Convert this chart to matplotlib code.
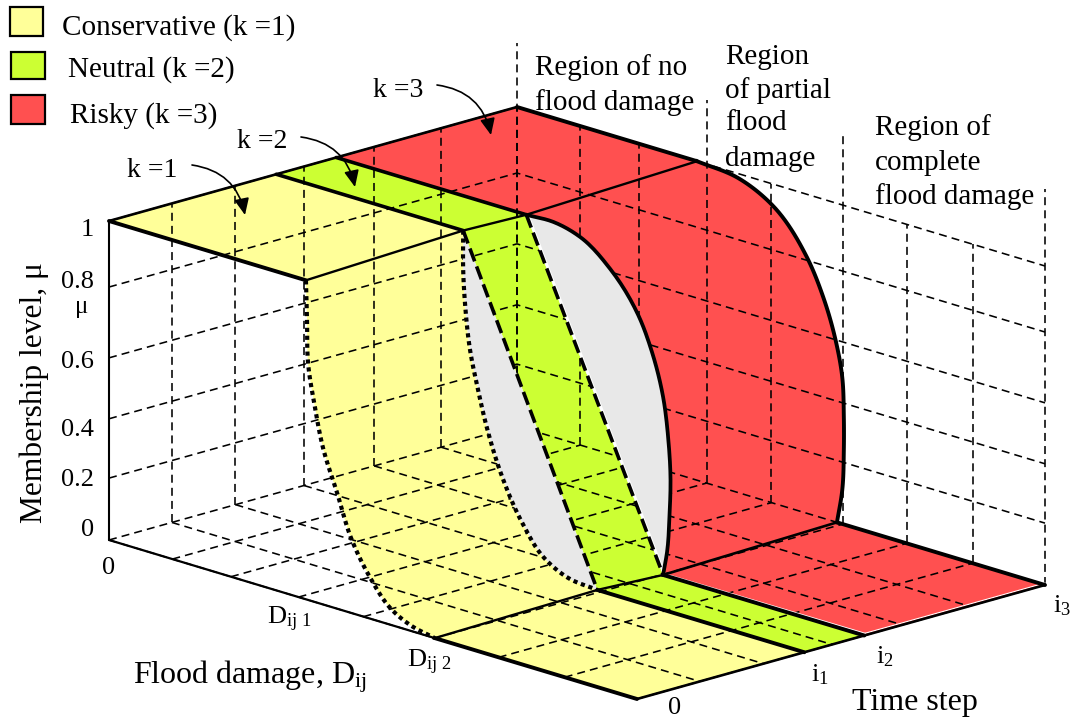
import numpy as np
import matplotlib
matplotlib.use('Agg')
import matplotlib.pyplot as plt
from matplotlib.patches import Polygon, Rectangle, FancyArrowPatch

plt.rcParams['font.family'] = ['Liberation Serif', 'DejaVu Serif']
plt.rcParams['mathtext.fontset'] = 'custom'
plt.rcParams['mathtext.rm'] = 'Liberation Serif'
plt.rcParams['mathtext.it'] = 'Liberation Serif'

# the oblique view of the (damage, time, membership) box, in picture pixels
ORIGIN = np.array([109.0, 540.0])
D_VEC = np.array([528.0, 159.0])
T_VEC = np.array([408.0, -114.0])
M_VEC = np.array([0.0, -319.0])

# grid positions
d_ticks = [0, 0.12, 0.231, 0.359, 0.482, 0.617, 0.738, 0.863, 1]
t_ticks = [0, 0.154, 0.31, 0.478, 0.65, 0.814, 1]
m_ticks = [0, 0.194, 0.38, 0.571, 0.793, 1]
t1 = 0.41
t2 = 0.557

# region dividers rise above the box
divider_d = [0, 0.359, 0.617, 1]
divider_top = [1.2, 1.2, 1.23, 1.24]

# membership curves along the edges of each strip
k1_front_d = [0.373, 0.375, 0.377, 0.39, 0.405, 0.432, 0.46, 0.494, 0.536, 0.57, 0.617]
k1_front_m = [1.0, 0.876, 0.743, 0.611, 0.493, 0.363, 0.229, 0.13, 0.048, 0.018, 0]
k1_back_d = [0.354, 0.354, 0.358, 0.367, 0.381, 0.4, 0.428, 0.466, 0.506, 0.553, 0.608]
k1_back_m = [1.0, 0.876, 0.762, 0.632, 0.523, 0.398, 0.264, 0.139, 0.052, 0.01, 0]
k2_front_d = [0.354, 0.608]
k2_back_d = [0.36, 0.619]
k2_m = [1.0, 0]
k3_front_d = [0.362, 0.411, 0.462, 0.519, 0.572, 0.598, 0.619, 0.629, 0.633, 0.631, 0.627, 0.619]
k3_front_m = [1.0, 1.003, 0.981, 0.909, 0.791, 0.688, 0.558, 0.428, 0.314, 0.187, 0.082, 0]
k3_back_d = [0.341, 0.419, 0.483, 0.549, 0.58, 0.602, 0.616, 0.619, 0.619, 0.616, 0.606]
k3_back_m = [1.0, 0.986, 0.934, 0.803, 0.693, 0.579, 0.46, 0.337, 0.233, 0.106, 0]

legend_labels = ['Conservative (k =1)', 'Neutral (k =2)', 'Risky (k =3)']
YELLOW = '#ffff99'
GREEN = '#ccff33'
RED = '#ff5050'
GREY = '#e8e8e8'


def project(d, t, m):
    return ORIGIN + np.asarray(d)[..., None] * D_VEC + np.asarray(t)[..., None] * T_VEC \
        + np.asarray(m)[..., None] * M_VEC


def smooth(pts):
    # hermite through the read points, tangents by chord length, so no kinks
    pts = np.asarray(pts, dtype=float)
    if len(pts) < 3:
        return pts
    s = np.r_[0, np.cumsum(np.hypot(*np.diff(pts, axis=0).T))]
    tang = np.gradient(pts, s, axis=0)
    out = [pts[:1]]
    u = np.linspace(0, 1, 13)[1:, None]
    for i in range(len(pts) - 1):
        h = s[i + 1] - s[i]
        c1 = pts[i] + tang[i] * h / 3
        c2 = pts[i + 1] - tang[i + 1] * h / 3
        out.append((1 - u) ** 3 * pts[i] + 3 * (1 - u) ** 2 * u * c1
                   + 3 * (1 - u) * u ** 2 * c2 + u ** 3 * pts[i + 1])
    return np.vstack(out)


def edge(ds, t, ms):
    return smooth(project(np.array(ds), np.full(len(ds), t), np.array(ms)))


def seg(ax, a, b, lw, z=6, **kw):
    ax.plot([a[0], b[0]], [a[1], b[1]], color='black', lw=lw, zorder=z,
            solid_capstyle='round', **kw)


def label(x, y, txt, size, ha='left', z=8):
    # va=center sits a little high for this font
    ax.text(x, y + 2.5, txt, fontsize=size, va='center', ha=ha, zorder=z)


fig = plt.figure(figsize=(10.7, 7.23), dpi=100)
ax = fig.add_axes([0, 0, 1, 1])
ax.set_xlim(0, 1070)
ax.set_ylim(723, 0)
ax.axis('off')

k1a = edge(k1_front_d, 0, k1_front_m)
k1b = edge(k1_back_d, t1, k1_back_m)
k2a = edge(k2_front_d, t1, k2_m)
k2b = edge(k2_back_d, t2, k2_m)
k3a = edge(k3_front_d, t2, k3_front_m)
k3b = edge(k3_back_d, 1, k3_back_m)

# coloured strips: flat top, falling part, flat floor
strips = [(0, t1, k1a, k1b, YELLOW), (t1, t2, k2a, k2b, GREEN), (t2, 1, k3a, k3b, RED)]
for ta, tb, ca, cb, col in strips:
    outline = np.vstack([project(0.0, ta, 1.0)[None], ca, project(1.0, ta, 0.0)[None],
                         project(1.0, tb, 0.0)[None], cb[::-1], project(0.0, tb, 1.0)[None]])
    ax.add_patch(Polygon(outline, closed=True, facecolor=col, edgecolor='none', zorder=1))

# dashed box grid, floor lines are only drawn once or the dashes fill in
grid_kw = dict(color='black', lw=1.15, linestyle=(0, (5, 3.2)), zorder=3)
for m in m_ticks[1:]:
    p = project(np.array([0.0, 0.0, 1.0]), np.array([0.0, 1.0, 1.0]), np.array([m, m, m]))
    ax.plot(p[:, 0], p[:, 1], **grid_kw)
for t in t_ticks:
    p = project(np.array([0.0, 0.0]), np.array([t, t]), np.array([0.0, 1.0]))
    ax.plot(p[:, 0], p[:, 1], **grid_kw)
    p = project(np.array([0.0, 1.0]), np.array([t, t]), np.array([0.0, 0.0]))
    ax.plot(p[:, 0], p[:, 1], **grid_kw)
for d in d_ticks:
    p = project(np.array([d, d]), np.array([0.0, 1.0]), np.array([0.0, 0.0]))
    ax.plot(p[:, 0], p[:, 1], **grid_kw)
    top = divider_top[divider_d.index(d)] if d in divider_d else 1.0
    p = project(np.array([d, d]), np.array([1.0, 1.0]), np.array([0.0, top]))
    ax.plot(p[:, 0], p[:, 1], **grid_kw)

# grey gaps between the membership surfaces hide the grid
ax.add_patch(Polygon(np.vstack([k1b, k2a[::-1]]), closed=True, facecolor=GREY,
                     edgecolor='none', zorder=4))
ax.add_patch(Polygon(np.vstack([k2b, k3a[::-1]]), closed=True, facecolor=GREY,
                     edgecolor='none', zorder=4))
ax.plot(k2b[:, 0] + 1.5, k2b[:, 1], color='white', lw=2.0, zorder=5)

# thin white seam along the red floor
floor_near = project(1.0, t2, 0.0)
floor_corner = k3a[-1]
ax.plot([floor_corner[0] + 2, floor_near[0] + 1], [floor_corner[1] - 1, floor_near[1] - 2],
        color='white', lw=1.0, zorder=5)
floor_end = project(1.0, 1.0, 0.0)
ax.plot([floor_near[0], floor_end[0]], [floor_near[1] - 2, floor_end[1] - 2],
        color='white', lw=0.8, zorder=5)

# box outline
seg(ax, project(0.0, 0.0, 0.0), project(0.0, 0.0, 1.0), 1.5)
seg(ax, project(0.0, 0.0, 1.0), project(0.0, 1.0, 1.0), 1.9)
seg(ax, project(0.0, 0.0, 0.0), k1a[-1], 1.6)
seg(ax, k1a[-1], project(1.0, 0.0, 0.0), 2.8)
seg(ax, project(1.0, 0.0, 0.0), project(1.0, 1.0, 0.0), 1.9)

# top and floor edges
seg(ax, project(0.0, 0.0, 1.0), k1a[0], 2.8)
seg(ax, project(0.0, t1, 1.0), k1b[0], 2.6)
seg(ax, project(0.0, t2, 1.0), k2b[0], 2.6)
seg(ax, project(0.0, 1.0, 1.0), k3b[0], 2.8)
seg(ax, k1a[0], k1b[0], 1.7)
seg(ax, k1b[0], k2b[0], 1.7)
seg(ax, k2b[0], k3b[0], 1.7)
seg(ax, k1a[-1], k1b[-1], 1.7)
seg(ax, k1b[-1], k3a[-1], 1.7)
seg(ax, k3a[-1], k3b[-1], 1.9)
seg(ax, k1b[-1], project(1.0, t1, 0.0), 2.8)
seg(ax, k3a[-1], project(1.0, t2, 0.0), 2.8)
seg(ax, k3b[-1], project(1.0, 1.0, 0.0), 2.8)

# membership curves
ax.plot(k1a[:, 0], k1a[:, 1], color='black', lw=3.0, linestyle=(0, (1, 0.9)), zorder=6)
ax.plot(k1b[:, 0], k1b[:, 1], color='black', lw=3.0, linestyle=(0, (1, 0.9)), zorder=6)
ax.plot(k2a[:, 0], k2a[:, 1], color='black', lw=2.6, linestyle=(0, (3.8, 1.5)), zorder=6)
ax.plot(k2b[:, 0], k2b[:, 1], color='black', lw=2.6, linestyle=(0, (3.8, 1.5)), zorder=6)
ax.plot(k3a[:, 0], k3a[:, 1], color='black', lw=2.7, zorder=6)
ax.plot(k3b[:, 0], k3b[:, 1], color='black', lw=2.8, zorder=6)

# legend
swatches = [(10, 7, 33, 29, YELLOW), (11, 52, 34, 27, GREEN), (11, 95, 34, 29, RED)]
label_x = [62, 68, 70]
label_y = [25, 67, 113]
for (x, y, w, h, col), lab, lx, ly in zip(swatches, legend_labels, label_x, label_y):
    ax.add_patch(Rectangle((x, y), w, h, facecolor=col, edgecolor='black', lw=1.6, zorder=7))
    label(lx, ly, lab, 21)

# k labels with curved arrows
for txt, lx, ly, start, end in [('k =1', 127, 168, (192, 165), (245, 215)),
                                ('k =2', 237, 139, (301, 137), (355, 187)),
                                ('k =3', 373, 88, (437, 85), (491, 135))]:
    label(lx, ly, txt, 20)
    ax.add_patch(FancyArrowPatch(start, end, connectionstyle='arc3,rad=-0.35',
                                 arrowstyle='-|>,head_length=10,head_width=4.5',
                                 color='black', lw=1.2, zorder=8, shrinkA=0, shrinkB=0))

# region notes
for txt, x, y in [('Region of no', 535, 65), ('flood damage', 535, 100),
                  ('Region', 725, 54), ('of partial', 725, 88), ('flood', 725, 121),
                  ('damage', 725, 156), ('Region of', 875, 125), ('complete', 875, 160),
                  ('flood damage', 875, 194)]:
    label(x, y, txt, 21)

# membership tick labels
for txt, y in [('1', 228), ('0.8', 279), ('0.6', 360), ('0.4', 427), ('0.2', 478), ('0', 528)]:
    label(94, y, txt, 19, ha='right')
label(82, 304, 'μ', 18, ha='center')
ax.text(34, 393, 'Membership level, μ', fontsize=22.7, rotation=90, va='center', ha='center')

# bottom labels
label(109, 565, '0', 19, ha='center')
label(267, 617, r'$\mathrm{D_{ij\ 1}}$', 19)
label(407, 660, r'$\mathrm{D_{ij\ 2}}$', 19)
label(133, 674, r'Flood damage, $\mathrm{D_{ij}}$', 23)
label(675, 705, '0', 19, ha='center')
label(811, 672, r'$\mathrm{i_1}$', 19)
label(876, 654, r'$\mathrm{i_2}$', 19)
label(1053, 603, r'$\mathrm{i_3}$', 19)
label(852, 700, 'Time step', 23)

fig.savefig('out.png', dpi=100)
